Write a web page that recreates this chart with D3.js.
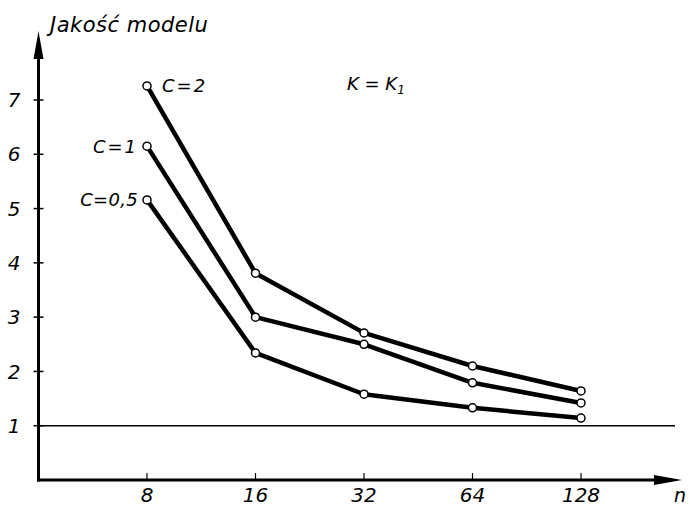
<!DOCTYPE html>
<html>
<head>
<meta charset="utf-8">
<script src="https://cdn.jsdelivr.net/npm/d3@7"></script>
<style>
  html, body { margin: 0; padding: 0; background: #fff; }
  svg { display: block; }
  text { font-family: "DejaVu Sans", sans-serif; font-style: italic; fill: #000; }
</style>
</head>
<body>
<div id="showBox"></div>
<script>
// n values (x axis, log2 spaced)
const nValues = [8, 16, 32, 64, 128]
const yTicks = [1, 2, 3, 4, 5, 6, 7]

// model quality for each C
const seriesNames = ["C=2", "C=1", "C=0,5"]
const c2 = [7.26, 3.81, 2.71, 2.10, 1.64]
const c1 = [6.15, 3.00, 2.50, 1.79, 1.42]
const c05 = [5.16, 2.34, 1.58, 1.33, 1.14]

const width = 690, height = 506

const x = d3.scaleLog().base(2).domain([4, 128]).range([38.5, 581])
const y = d3.scaleLinear().domain([0, 7]).range([480, 100])

const svg = d3.select("#showBox").append("svg")
    .attr("width", width)
    .attr("height", height)

// reference line at 1
svg.append("line")
    .attr("x1", x(4)).attr("x2", 675)
    .attr("y1", y(1)).attr("y2", y(1))
    .attr("stroke", "#000").attr("stroke-width", 1.5)

// axes
const x0 = x(4), y0 = y(0)
const xTip = 682, yTip = 31

svg.append("line")
    .attr("x1", x0 - 1.5).attr("y1", y0)
    .attr("x2", xTip - 20).attr("y2", y0)
    .attr("stroke", "#000").attr("stroke-width", 3)

svg.append("line")
    .attr("x1", x0).attr("y1", y0 + 1.5)
    .attr("x2", x0).attr("y2", yTip + 20)
    .attr("stroke", "#000").attr("stroke-width", 3)

// arrow heads
svg.append("path")
    .attr("d", `M${xTip},${y0} L${xTip - 28},${y0 - 5} L${xTip - 28},${y0 + 5} Z`)
    .attr("fill", "#000")
svg.append("path")
    .attr("d", `M${x0},${yTip} L${x0 - 5},${yTip + 28} L${x0 + 5},${yTip + 28} Z`)
    .attr("fill", "#000")

// y ticks
svg.append("g").selectAll("line")
    .data(yTicks)
    .join("line")
    .attr("x1", x0 - 5).attr("x2", x0 + 5)
    .attr("y1", d => y(d)).attr("y2", d => y(d))
    .attr("stroke", "#000").attr("stroke-width", 1.5)

svg.append("g")
    .attr("font-size", 20)
    .attr("text-anchor", "middle")
    .selectAll("text")
    .data(yTicks)
    .join("text")
    .attr("x", 14)
    .attr("y", d => y(d))
    .attr("dy", "0.36em")
    .text(d => d)

// x ticks
svg.append("g").selectAll("line")
    .data(nValues)
    .join("line")
    .attr("x1", d => x(d)).attr("x2", d => x(d))
    .attr("y1", y0 - 7).attr("y2", y0)
    .attr("stroke", "#000").attr("stroke-width", 1.2)

svg.append("g")
    .attr("font-size", 20)
    .attr("text-anchor", "middle")
    .selectAll("text")
    .data(nValues)
    .join("text")
    .attr("x", d => x(d))
    .attr("y", 502)
    .text(d => d)

svg.append("text")
    .attr("x", 674).attr("y", 502)
    .attr("font-size", 19)
    .text("n")

// title and note
svg.append("text")
    .attr("x", 50).attr("y", 32)
    .attr("font-size", 21)
    .attr("letter-spacing", 0.5)
    .text("Jakość modelu")

const kText = svg.append("text")
    .attr("x", 347).attr("y", 90)
    .attr("font-size", 18)
kText.append("tspan").text("K = K")
kText.append("tspan").attr("font-size", 12).attr("dy", 4).text("1")

// series
const series = [c2, c1, c05]
const line = d3.line()
    .x((d, i) => x(nValues[i]))
    .y(d => y(d))

svg.append("g")
    .attr("fill", "none")
    .attr("stroke", "#000")
    .attr("stroke-width", 4.5)
    .attr("stroke-linejoin", "round")
    .selectAll("path")
    .data(series)
    .join("path")
    .attr("d", line)

svg.append("g")
    .selectAll("g")
    .data(series)
    .join("g")
    .selectAll("circle")
    .data(d => d)
    .join("circle")
    .attr("cx", (d, i) => x(nValues[i]))
    .attr("cy", d => y(d))
    .attr("r", 4)
    .attr("fill", "#fff")
    .attr("stroke", "#000")
    .attr("stroke-width", 1.5)

// series labels
svg.append("g")
    .attr("font-size", 18)
    .attr("letter-spacing", (d) => null)
    .selectAll("text")
    .data(seriesNames)
    .join("text")
    .attr("letter-spacing", (d, i) => i === 2 ? 0.3 : 2)
    .attr("x", (d, i) => i === 0 ? x(8) + 15 : x(8) - 9)
    .attr("y", (d, i) => y(series[i][0]))
    .attr("dy", "0.36em")
    .attr("text-anchor", (d, i) => i === 0 ? "start" : "end")
    .text(d => d)
</script>
</body>
</html>
